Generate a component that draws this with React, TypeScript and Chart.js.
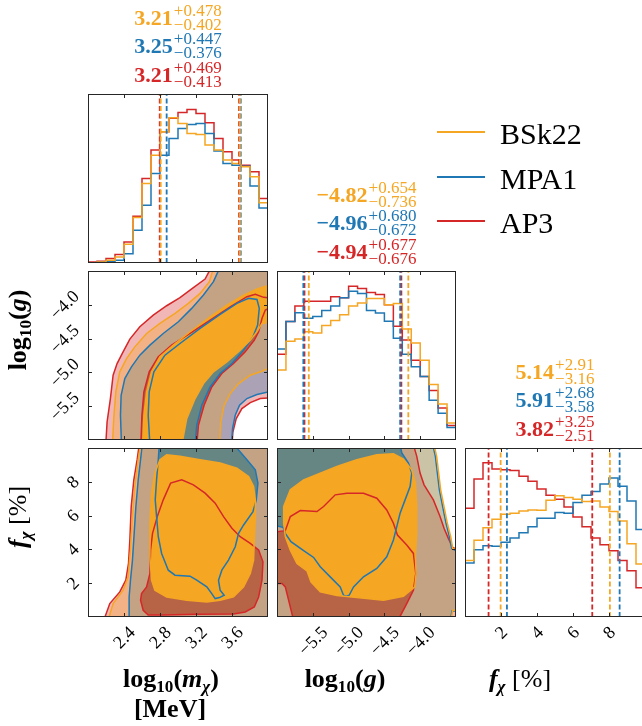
import React, { useEffect, useRef } from 'react';
import { Chart, registerables } from 'chart.js';

Chart.register(...registerables);

const FONT = '"Liberation Serif", "DejaVu Serif", serif';

// ---------------- models ----------------
const modelNames = ['BSk22', 'MPA1', 'AP3'];
const modelColors = ['#f5a623', '#1f77b4', '#d62728'];
const modelRGB = [[245, 166, 35], [31, 119, 180], [214, 39, 40]];
const drawOrder = [2, 1, 0]; // AP3 first, BSk22 on top

// ---------------- axes ----------------
const massRange = [2.0, 4.0];
const couplingRange = [-6.0, -3.5];
const fracRange = [0, 10];
const histRange = [0, 100];

const massTicks = [2.4, 2.8, 3.2, 3.6];
const massTickLabels = ['2.4', '2.8', '3.2', '3.6'];
const couplingTicks = [-5.5, -5.0, -4.5, -4.0];
const couplingTickLabels = ['\u22125.5', '\u22125.0', '\u22124.5', '\u22124.0'];
const fracTicks = [2, 4, 6, 8];
const fracTickLabels = ['2', '4', '6', '8'];

// ---------------- 1D histograms (20 bins over the axis range) ----------------
const massHistBSk22 = [0.2, 0.6, 1.6, 3.6, 11.1, 26.9, 47, 63.8, 77.7, 86, 82.6, 76.7, 76.1, 69.8, 66.8, 60.9, 58.9, 56.9, 51, 35.6];
const massHistMPA1 = [0.2, 0.4, 0.8, 1.6, 5.5, 19.4, 34.2, 53, 63.8, 73.7, 79.6, 82, 82.6, 76.7, 66.2, 58.9, 57.9, 57.3, 45.5, 32.6];
const massHistAP3 = [0.6, 1, 2.6, 5.1, 12.5, 27.7, 50, 66.8, 77.7, 85.6, 89.1, 90.9, 88.5, 83, 73.7, 65.8, 60.9, 57.9, 54, 38.1];

const couplingHistBSk22 = [41.4, 58.4, 59.8, 64.1, 63.3, 67.7, 70.7, 74.1, 79.3, 81.1, 83.7, 83.7, 80.1, 80.7, 65.7, 57.4, 47.2, 32.9, 21.3, 10];
const couplingHistMPA1 = [53.8, 70.1, 75.3, 72.1, 73.1, 76.7, 79.3, 84.1, 88, 86.7, 76.7, 75.1, 70.3, 60.2, 50.8, 43.4, 37.6, 23.5, 15.9, 7.4];
const couplingHistAP3 = [50.8, 70.1, 79.3, 82.1, 82.1, 82.1, 84.7, 84.1, 91, 89.6, 87.3, 86.1, 80.1, 67.3, 59.2, 47.2, 37.6, 29.3, 18.9, 8.6];

const fracHistBSk22 = [33.5, 45.4, 52.8, 57.8, 60.8, 61.4, 62.7, 63.3, 63.1, 69.1, 71.7, 70.7, 69.7, 68.3, 68.7, 65.1, 62.4, 56.8, 43.4, 31.3];
const fracHistMPA1 = [31.9, 39.8, 42.2, 41.8, 44.2, 46.8, 49.8, 53.4, 58.4, 58.4, 61.8, 61.4, 67.7, 72.1, 74.3, 78.7, 82.3, 77.3, 68.7, 51.8];
const fracHistAP3 = [64.3, 81.7, 91.2, 87.6, 87.1, 86.7, 83.3, 80.3, 75.7, 72.1, 69.7, 65.1, 59.2, 53.4, 46.8, 42.8, 39.2, 33.5, 27.3, 17.3];

// ---------------- summary statistics (median, +err, -err) ----------------
const massMedian = [3.21, 3.25, 3.21];
const massPlus = [0.478, 0.447, 0.469];
const massMinus = [0.402, 0.376, 0.413];
const couplingMedian = [-4.82, -4.96, -4.94];
const couplingPlus = [0.654, 0.68, 0.677];
const couplingMinus = [0.736, 0.672, 0.676];
const fracMedian = [5.14, 5.91, 3.82];
const fracPlus = [2.91, 2.68, 3.25];
const fracMinus = [3.16, 3.58, 2.51];

// ---------------- 2D contours: log10(m) vs log10(g) ----------------
const mcOuterAP3 = [[2.197, -6.08], [2.212, -5.733], [2.249, -5.387], [2.279, -5.041], [2.323, -4.869], [2.39, -4.696], [2.465, -4.508], [2.576, -4.325], [2.725, -4.152], [2.874, -4.014], [3.022, -3.895], [3.171, -3.747], [3.301, -3.619], [3.364, -3.46], [4.3, -3.2], [4.3, -5.377], [4.0, -5.377], [3.914, -5.387], [3.803, -5.447], [3.71, -5.536], [3.647, -5.684], [3.61, -5.881], [3.599, -6.08], [3.599, -6.3], [2.19, -6.3], [2.197, -6.08]];
const mcOuterBSk22 = [[2.271, -6.08], [2.286, -5.684], [2.309, -5.289], [2.353, -4.992], [2.428, -4.795], [2.52, -4.622], [2.651, -4.424], [2.799, -4.276], [2.967, -4.128], [3.115, -3.979], [3.245, -3.831], [3.349, -3.658], [3.394, -3.46], [4.3, -3.2], [4.3, -4.943], [4.0, -4.943], [3.933, -4.982], [3.803, -5.041], [3.673, -5.165], [3.58, -5.313], [3.513, -5.486], [3.476, -5.733], [3.461, -6.08], [3.461, -6.3], [2.26, -6.3], [2.271, -6.08]];
const mcOuterMPA1 = [[2.372, -6.08], [2.361, -5.634], [2.368, -5.338], [2.409, -5.091], [2.483, -4.918], [2.576, -4.745], [2.688, -4.597], [2.836, -4.424], [3.004, -4.251], [3.152, -4.053], [3.283, -3.856], [3.394, -3.658], [3.461, -3.46], [4.3, -3.2], [4.3, -5.289], [4.0, -5.289], [3.877, -5.328], [3.766, -5.387], [3.684, -5.486], [3.636, -5.634], [3.606, -5.832], [3.595, -6.08], [3.595, -6.3], [2.37, -6.3], [2.372, -6.08]];
const mcInnerAP3 = [[2.587, -6.08], [2.599, -5.634], [2.621, -5.289], [2.68, -4.992], [2.781, -4.77], [2.929, -4.597], [3.134, -4.424], [3.357, -4.226], [3.58, -4.029], [3.766, -3.88], [3.859, -3.846], [3.952, -3.89], [4.05, -3.905], [4.05, -4.029], [3.97, -4.078], [3.933, -4.202], [3.896, -4.399], [3.848, -4.523], [3.747, -4.696], [3.617, -4.869], [3.487, -5.017], [3.375, -5.215], [3.29, -5.486], [3.227, -5.783], [3.208, -6.08], [3.208, -6.3], [2.587, -6.3], [2.587, -6.08]];
const mcInnerMPA1 = [[2.688, -6.08], [2.669, -5.634], [2.68, -5.289], [2.732, -4.992], [2.855, -4.745], [3.022, -4.572], [3.245, -4.35], [3.468, -4.142], [3.654, -3.979], [3.784, -3.905], [3.877, -3.92], [3.903, -4.053], [3.885, -4.3], [3.833, -4.473], [3.729, -4.671], [3.599, -4.869], [3.468, -5.017], [3.357, -5.215], [3.264, -5.486], [3.208, -5.783], [3.19, -6.08], [3.19, -6.3], [2.688, -6.3], [2.688, -6.08]];
const mcInnerBSk22 = [[2.606, -6.3], [2.606, -6.08], [2.621, -5.634], [2.651, -5.289], [2.706, -4.992], [2.799, -4.77], [2.948, -4.597], [3.134, -4.399], [3.357, -4.177], [3.543, -4.004], [3.729, -3.856], [3.877, -3.767], [3.989, -3.717], [4.05, -3.71], [4.05, -4.25], [3.933, -4.276], [3.877, -4.399], [3.803, -4.523], [3.691, -4.671], [3.543, -4.844], [3.394, -4.992], [3.283, -5.165], [3.19, -5.387], [3.097, -5.684], [3.041, -6.08], [3.041, -6.3], [2.606, -6.3]];

// ---------------- 2D contours: log10(m) vs f ----------------
const mfOuterAP3 = [[2.175, -0.2], [2.242, 0.792], [2.353, 1.485], [2.42, 2.178], [2.45, 3.168], [2.465, 4.555], [2.48, 6.535], [2.509, 8.119], [2.546, 9.307], [2.569, 10.2], [4.2, 10.2], [4.2, -0.2], [2.175, -0.2]];
const mfOuterBSk22 = [[2.223, -0.2], [2.279, 0.792], [2.39, 1.584], [2.446, 2.376], [2.472, 3.96], [2.494, 5.941], [2.52, 7.723], [2.558, 9.307], [2.584, 10.2], [4.2, 10.2], [4.2, -0.2], [2.223, -0.2]];
const mfOuterMPA1 = [[2.457, -0.2], [2.457, 1.188], [2.472, 2.178], [2.494, 3.366], [2.513, 4.95], [2.532, 6.535], [2.558, 8.119], [2.584, 9.307], [2.602, 10.2], [4.2, 10.2], [4.2, -0.2], [2.457, -0.2]];
const mfInnerAP3 = [[2.77, 5.941], [2.836, 6.931], [2.918, 7.921], [3.041, 8.119], [3.171, 7.822], [3.301, 7.327], [3.413, 6.733], [3.506, 5.941], [3.599, 5.248], [3.691, 4.752], [3.803, 4.356], [3.896, 3.96], [3.944, 3.267], [3.933, 2.178], [3.896, 1.188], [3.848, 0.594], [3.747, 0.297], [3.617, 0.178], [3.208, 0.158], [2.836, 0.119], [2.669, 0.119], [2.613, 0.396], [2.584, 0.99], [2.595, 1.386], [2.651, 1.782], [2.688, 2.574], [2.695, 3.96], [2.717, 4.95], [2.77, 5.941]];
const mfInnerMPA1 = [[2.792, 10.2], [2.781, 9.307], [2.762, 8.119], [2.747, 6.931], [2.762, 5.941], [2.781, 4.752], [2.818, 3.762], [2.892, 2.772], [2.967, 2.475], [3.134, 2.416], [3.208, 2.178], [3.32, 1.782], [3.375, 1.386], [3.413, 1.089], [3.461, 1.149], [3.513, 1.287], [3.468, 1.584], [3.45, 2.178], [3.487, 2.772], [3.561, 3.366], [3.636, 4.158], [3.673, 4.95], [3.729, 5.446], [3.833, 6.238], [3.87, 6.931], [3.888, 7.921], [3.859, 8.713], [3.766, 9.307], [3.654, 10.0], [3.617, 10.2], [2.792, 10.2]];
const mfInnerBSk22 = [[2.706, 7.327], [2.688, 5.545], [2.688, 3.564], [2.706, 2.178], [2.743, 1.584], [2.874, 1.188], [3.097, 0.99], [3.32, 0.891], [3.468, 0.99], [3.617, 1.188], [3.729, 1.782], [3.803, 2.574], [3.84, 3.366], [3.848, 4.555], [3.859, 5.743], [3.859, 6.931], [3.84, 7.723], [3.784, 8.317], [3.654, 8.812], [3.468, 9.109], [3.245, 9.307], [3.022, 9.505], [2.874, 9.604], [2.799, 9.307], [2.743, 8.515], [2.706, 7.327]];

// ---------------- 2D contours: log10(g) vs f ----------------
const cfOuterAP3 = [[-6.2, -0.2], [-6.2, 10.2], [-4.095, 10.2], [-4.048, 9.505], [-4.002, 8.515], [-3.946, 7.822], [-3.816, 6.931], [-3.723, 5.941], [-3.667, 5.248], [-3.607, 4.653], [-3.546, 4.119], [-3.467, 3.96], [-3.3, 3.96], [-3.3, -0.2], [-6.2, -0.2]];
const cfOuterMPA1 = [[-6.2, -0.2], [-6.2, 10.2], [-3.825, 10.2], [-3.788, 9.505], [-3.76, 8.515], [-3.732, 7.525], [-3.686, 6.535], [-3.639, 5.545], [-3.593, 4.752], [-3.56, 4.059], [-3.467, 3.861], [-3.3, 3.861], [-3.3, 0.356], [-3.556, 0.356], [-3.579, -0.2], [-6.2, -0.2]];
const cfOuterBSk22 = [[-6.2, -0.2], [-6.2, 10.2], [-3.807, 10.2], [-3.77, 9.505], [-3.742, 8.515], [-3.714, 7.525], [-3.667, 6.535], [-3.621, 5.545], [-3.574, 4.752], [-3.546, 4.059], [-3.467, 3.92], [-3.3, 3.92], [-3.3, 0.396], [-3.546, 0.396], [-3.57, -0.2], [-6.2, -0.2]];
const cfInnerAP3 = [[-6.2, 5.05], [-6.0, 5.05], [-5.884, 5.109], [-5.814, 5.941], [-5.675, 6.297], [-5.442, 6.238], [-5.349, 6.535], [-5.187, 7.228], [-5.024, 7.327], [-4.792, 7.327], [-4.606, 7.03], [-4.467, 6.337], [-4.374, 5.545], [-4.318, 4.851], [-4.188, 4.257], [-4.095, 3.762], [-4.062, 2.574], [-4.095, 1.584], [-4.188, 0.792], [-4.281, 0.04], [-4.29, -0.2], [-5.768, -0.2], [-5.884, 1.782], [-5.93, 1.98], [-6.0, 1.98], [-6.2, 1.98], [-6.2, 5.05]];
const cfInnerMPA1 = [[-6.2, 10.2], [-4.281, 10.2], [-4.257, 9.703], [-4.164, 9.109], [-4.118, 8.515], [-4.141, 7.723], [-4.211, 6.931], [-4.281, 6.139], [-4.327, 5.347], [-4.374, 4.555], [-4.467, 3.564], [-4.606, 2.871], [-4.792, 2.376], [-4.931, 1.782], [-4.992, 1.287], [-5.033, 1.228], [-5.071, 1.287], [-5.117, 1.782], [-5.257, 2.376], [-5.396, 2.97], [-5.489, 3.525], [-5.628, 3.921], [-5.805, 4.455], [-5.884, 4.95], [-5.916, 5.307], [-6.0, 5.386], [-6.2, 5.386], [-6.2, 10.2]];
const cfInnerBSk22 = [[-5.907, 6.535], [-5.814, 7.525], [-5.628, 8.119], [-5.396, 8.515], [-5.164, 8.911], [-4.885, 9.307], [-4.606, 9.604], [-4.374, 9.663], [-4.234, 9.347], [-4.118, 8.713], [-4.067, 7.921], [-4.048, 6.535], [-4.048, 4.95], [-4.067, 3.564], [-4.057, 2.574], [-4.076, 1.782], [-4.234, 1.228], [-4.513, 0.99], [-4.885, 1.149], [-5.164, 1.267], [-5.396, 1.485], [-5.526, 2.079], [-5.582, 2.733], [-5.721, 3.168], [-5.814, 3.96], [-5.884, 4.752], [-5.907, 5.545], [-5.907, 6.535]];

// ---------------- lookups ----------------
const axes: any = {
  mass: { range: massRange, ticks: massTicks, labels: massTickLabels },
  coupling: { range: couplingRange, ticks: couplingTicks, labels: couplingTickLabels },
  frac: { range: fracRange, ticks: fracTicks, labels: fracTickLabels },
};
const hists: any = {
  mass: [massHistBSk22, massHistMPA1, massHistAP3],
  coupling: [couplingHistBSk22, couplingHistMPA1, couplingHistAP3],
  frac: [fracHistBSk22, fracHistMPA1, fracHistAP3],
};
const stats: any = {
  mass: { med: massMedian, plus: massPlus, minus: massMinus, digits: 3 },
  coupling: { med: couplingMedian, plus: couplingPlus, minus: couplingMinus, digits: 3 },
  frac: { med: fracMedian, plus: fracPlus, minus: fracMinus, digits: 2 },
};
const contours: any = {
  mc: { outer: [mcOuterBSk22, mcOuterMPA1, mcOuterAP3], inner: [mcInnerBSk22, mcInnerMPA1, mcInnerAP3] },
  mf: { outer: [mfOuterBSk22, mfOuterMPA1, mfOuterAP3], inner: [mfInnerBSk22, mfInnerMPA1, mfInnerAP3] },
  cf: { outer: [cfOuterBSk22, cfOuterMPA1, cfOuterAP3], inner: [cfInnerBSk22, cfInnerMPA1, cfInnerAP3] },
};

// ---------------- layout ----------------
const CANVAS_W = 650;
const CANVAS_H = 726;
const colEdges = [[88, 268], [277, 456], [465, 645]];
const rowEdges = [[94, 263], [271, 440], [448, 617]];

const panelSpecs = [
  { key: 'hMass', col: 0, row: 0, kind: 'hist', x: 'mass' },
  { key: 'mc', col: 0, row: 1, kind: '2d', x: 'mass', y: 'coupling', yLabels: true },
  { key: 'hCoup', col: 1, row: 1, kind: 'hist', x: 'coupling' },
  { key: 'mf', col: 0, row: 2, kind: '2d', x: 'mass', y: 'frac', xLabels: true, yLabels: true },
  { key: 'cf', col: 1, row: 2, kind: '2d', x: 'coupling', y: 'frac', xLabels: true },
  { key: 'hFrac', col: 2, row: 2, kind: 'hist', x: 'frac', xLabels: true },
];

const rgba = (m: number, a: number) => `rgba(${modelRGB[m][0]},${modelRGB[m][1]},${modelRGB[m][2]},${a})`;
const toPts = (arr: number[][]) => arr.map(([x, y]) => ({ x, y }));

function stepPoints(range: number[], counts: number[]) {
  const [lo, hi] = range;
  const w = (hi - lo) / counts.length;
  const pts = [{ x: lo, y: 0 }];
  counts.forEach((c, i) => {
    pts.push({ x: lo + i * w, y: c });
    pts.push({ x: lo + (i + 1) * w, y: c });
  });
  pts.push({ x: hi, y: 0 });
  return pts;
}

function buildDatasets(spec: any) {
  const ds: any[] = [];
  const base = { pointRadius: 0, tension: 0, clip: 0 };
  if (spec.kind === 'hist') {
    const range = axes[spec.x].range;
    drawOrder.forEach((m) => {
      ds.push({ ...base, data: stepPoints(range, hists[spec.x][m]), borderColor: modelColors[m], borderWidth: 1.5 });
    });
    const st = stats[spec.x];
    drawOrder.forEach((m) => {
      [st.med[m] - st.minus[m], st.med[m] + st.plus[m]].forEach((q) => {
        ds.push({ ...base, data: [{ x: q, y: histRange[0] }, { x: q, y: histRange[1] }], borderColor: modelColors[m], borderWidth: 1.8, borderDash: [5, 2.6] });
      });
    });
  } else {
    const c = contours[spec.key];
    drawOrder.forEach((m) => {
      ds.push({ ...base, data: toPts(c.outer[m]), borderColor: 'rgba(0,0,0,0)', borderWidth: 0, fillColor: rgba(m, 1 / 3) });
      ds.push({ ...base, data: toPts(c.inner[m]), borderColor: 'rgba(0,0,0,0)', borderWidth: 0, fillColor: modelColors[m] });
    });
    drawOrder.forEach((m) => {
      ds.push({ ...base, data: toPts(c.outer[m]), borderColor: modelColors[m], borderWidth: 1.5 });
      ds.push({ ...base, data: toPts(c.inner[m]), borderColor: modelColors[m], borderWidth: 1.5 });
    });
  }
  const n = ds.length;
  ds.forEach((d, i) => { d.order = n - i; });
  return ds;
}

function makePanelPlugin(spec: any) {
  return {
    id: 'panelDecor',
    beforeDatasetDraw(chart: any, args: any) {
      const d: any = chart.data.datasets[args.index];
      if (!d.fillColor) return;
      const { ctx, chartArea: a } = chart;
      const pts = args.meta.data;
      ctx.save();
      ctx.beginPath();
      ctx.rect(a.left, a.top, a.right - a.left, a.bottom - a.top);
      ctx.clip();
      ctx.beginPath();
      pts.forEach((p: any, i: number) => (i ? ctx.lineTo(p.x, p.y) : ctx.moveTo(p.x, p.y)));
      ctx.closePath();
      ctx.fillStyle = d.fillColor;
      ctx.fill();
      ctx.restore();
    },
    afterDatasetsDraw(chart: any) {
      const { ctx, chartArea: a, scales } = chart;
      const xs = scales.x, ys = scales.y;
      const xAx = axes[spec.x];
      const yAx = spec.y ? axes[spec.y] : null;
      const TL = 4;
      ctx.save();
      ctx.strokeStyle = '#262626';
      ctx.lineWidth = 1;
      ctx.beginPath();
      xAx.ticks.forEach((t: number) => {
        const px = Math.round(xs.getPixelForValue(t)) + 0.5;
        ctx.moveTo(px, a.bottom); ctx.lineTo(px, a.bottom - TL);
        ctx.moveTo(px, a.top); ctx.lineTo(px, a.top + TL);
      });
      if (yAx) {
        yAx.ticks.forEach((t: number) => {
          const py = Math.round(ys.getPixelForValue(t)) + 0.5;
          ctx.moveTo(a.left, py); ctx.lineTo(a.left + TL, py);
          ctx.moveTo(a.right, py); ctx.lineTo(a.right - TL, py);
        });
      }
      ctx.stroke();
      ctx.strokeRect(a.left + 0.5, a.top + 0.5, a.right - a.left - 1, a.bottom - a.top - 1);

      ctx.fillStyle = '#000';
      ctx.font = `18px ${FONT}`;
      ctx.textAlign = 'center';
      ctx.textBaseline = 'alphabetic';
      const h = 12;
      const drawRot = (label: string, cx: number, cy: number) => {
        ctx.save();
        ctx.translate(cx, cy);
        ctx.rotate(-Math.PI / 4);
        ctx.fillText(label, 0, h / 2);
        ctx.restore();
      };
      if (spec.xLabels) {
        xAx.ticks.forEach((t: number, i: number) => {
          const label = xAx.labels[i];
          const w = ctx.measureText(label).width;
          const s = (w + h) * Math.SQRT1_2;
          const px = xs.getPixelForValue(t);
          drawRot(label, px, a.bottom + 8 + s / 2);
        });
      }
      if (spec.yLabels && yAx) {
        yAx.ticks.forEach((t: number, i: number) => {
          const label = yAx.labels[i];
          const w = ctx.measureText(label).width;
          const s = (w + h) * Math.SQRT1_2;
          const py = ys.getPixelForValue(t);
          drawRot(label, a.left - 8 - s / 2, py);
        });
      }
      ctx.restore();
    },
  };
}

const fmt = (v: number, d: number) => v.toFixed(d).replace('-', '\u2212');

function TitleBlock({ param, col }: { param: string; col: number }) {
  const st = stats[param];
  const cx = (colEdges[col][0] + colEdges[col][1]) / 2;
  const top = rowEdges[col][0];
  return (
    <>
      {[0, 1, 2].map((m) => {
        const cy = top - 19.5 - (2 - m) * 28.5;
        return (
          <div
            key={m}
            style={{
              position: 'absolute', left: cx, top: cy, transform: 'translate(-50%,-50%)',
              display: 'flex', alignItems: 'center', color: modelColors[m], whiteSpace: 'nowrap',
              fontFamily: FONT,
            }}
          >
            <span style={{ fontSize: 22, lineHeight: '22px', fontWeight: 'bold' }}>{fmt(st.med[m], 2)}</span>
            <span style={{ display: 'inline-flex', flexDirection: 'column', fontSize: 17, lineHeight: '14px', marginLeft: 1 }}>
              <span>+{fmt(st.plus[m], st.digits)}</span>
              <span>{'\u2212' + fmt(st.minus[m], st.digits)}</span>
            </span>
          </div>
        );
      })}
    </>
  );
}

const subStyle: any = { fontSize: '0.66em', position: 'relative', top: '0.3em' };

function AxisLabel({ x, y, rotate, children }: any) {
  return (
    <div
      style={{
        position: 'absolute', left: x, top: y,
        transform: `translate(-50%,-50%)${rotate ? ' rotate(-90deg)' : ''}`,
        fontFamily: FONT, fontSize: 26, lineHeight: '26px', color: '#000', whiteSpace: 'nowrap',
      }}
    >
      {children}
    </div>
  );
}

const legendY = [132, 177, 221];

export default function App() {
  const refs = useRef<(HTMLCanvasElement | null)[]>([]);

  useEffect(() => {
    const charts: Chart[] = [];
    panelSpecs.forEach((spec: any, i) => {
      const canvas = refs.current[i];
      if (!canvas) return;
      const [x0, x1] = colEdges[spec.col];
      const [y0, y1] = rowEdges[spec.row];
      const chart = new Chart(canvas, {
        type: 'line',
        data: { datasets: buildDatasets(spec) },
        options: {
          animation: false,
          responsive: false,
          devicePixelRatio: 1,
          events: [],
          layout: { autoPadding: false, padding: { left: x0, top: y0, right: CANVAS_W - x1, bottom: CANVAS_H - y1 } },
          scales: {
            x: { type: 'linear', min: axes[spec.x].range[0], max: axes[spec.x].range[1], display: false },
            y: {
              type: 'linear',
              min: spec.y ? axes[spec.y].range[0] : histRange[0],
              max: spec.y ? axes[spec.y].range[1] : histRange[1],
              display: false,
            },
          },
          plugins: { legend: { display: false }, tooltip: { enabled: false } },
          elements: { point: { radius: 0 }, line: { tension: 0 } },
        } as any,
        plugins: [makePanelPlugin(spec) as any],
      });
      charts.push(chart);
    });
    return () => charts.forEach((c) => c.destroy());
  }, []);

  return (
    <div style={{ position: 'absolute', left: 0, top: 0, width: 642, height: 726, overflow: 'hidden', background: '#fff' }}>
      {panelSpecs.map((s, i) => (
        <canvas
          key={s.key}
          ref={(el) => { refs.current[i] = el; }}
          width={CANVAS_W}
          height={CANVAS_H}
          style={{ position: 'absolute', left: 0, top: 0 }}
        />
      ))}

      <TitleBlock param="mass" col={0} />
      <TitleBlock param="coupling" col={1} />
      <TitleBlock param="frac" col={2} />

      {modelNames.map((n, i) => (
        <React.Fragment key={n}>
          <div style={{ position: 'absolute', left: 437, top: legendY[i] - 1, width: 48, height: 2, background: modelColors[i] }} />
          <div
            style={{
              position: 'absolute', left: 500, top: legendY[i] + 2, transform: 'translateY(-50%)',
              fontFamily: FONT, fontSize: 30, lineHeight: '30px', color: '#000', whiteSpace: 'nowrap',
            }}
          >
            {n}
          </div>
        </React.Fragment>
      ))}

      <AxisLabel x={171} y={680}>
        <b>log<span style={subStyle}>10</span>(<i>m</i><i style={subStyle}>χ</i>)</b>
      </AxisLabel>
      <AxisLabel x={170} y={709}>
        <b>[MeV]</b>
      </AxisLabel>
      <AxisLabel x={345} y={680}>
        <b>log<span style={subStyle}>10</span>(<i>g</i>)</b>
      </AxisLabel>
      <AxisLabel x={520} y={680}>
        <b><i>f</i><i style={subStyle}>χ</i></b> [%]
      </AxisLabel>
      <AxisLabel x={19} y={330} rotate>
        <b>log<span style={subStyle}>10</span>(<i>g</i>)</b>
      </AxisLabel>
      <AxisLabel x={19} y={517} rotate>
        <b><i>f</i><i style={subStyle}>χ</i></b> [%]
      </AxisLabel>
    </div>
  );
}
